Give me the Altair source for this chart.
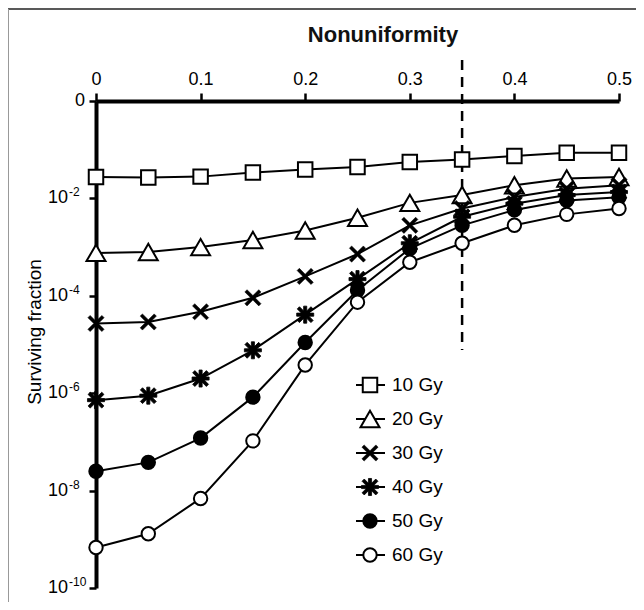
import math
import altair as alt
import pandas as pd

nonuniformity = [0.0, 0.05, 0.10, 0.15, 0.20, 0.25, 0.30, 0.35, 0.40, 0.45, 0.50]
doses = ["10 Gy", "20 Gy", "30 Gy", "40 Gy", "50 Gy", "60 Gy"]
sf_10 = [2.75e-2, 2.7e-2, 2.8e-2, 3.4e-2, 3.9e-2, 4.4e-2, 5.6e-2, 6.3e-2, 7.4e-2, 8.7e-2, 8.7e-2]
sf_20 = [7.6e-4, 7.9e-4, 1.0e-3, 1.4e-3, 2.2e-3, 4.0e-3, 8.1e-3, 1.17e-2, 1.86e-2, 2.57e-2, 2.75e-2]
sf_30 = [2.7e-5, 2.9e-5, 4.7e-5, 9.1e-5, 2.5e-4, 7.2e-4, 2.8e-3, 6.2e-3, 1.07e-2, 1.58e-2, 1.86e-2]
sf_40 = [7.2e-7, 8.9e-7, 2.0e-6, 7.6e-6, 4.1e-5, 2.2e-4, 1.2e-3, 4.2e-3, 7.8e-3, 1.17e-2, 1.35e-2]
sf_50 = [2.5e-8, 3.8e-8, 1.2e-7, 8.3e-7, 1.1e-5, 1.3e-4, 9.3e-4, 2.8e-3, 5.8e-3, 9.1e-3, 1.05e-2]
sf_60 = [6.8e-10, 1.3e-9, 6.9e-9, 1.05e-7, 3.8e-6, 7.4e-5, 4.9e-4, 1.2e-3, 2.8e-3, 4.7e-3, 6.2e-3]
threshold = 0.35
x_ticks = [0, 0.1, 0.2, 0.3, 0.4, 0.5]
y_ticks = [1, 1e-2, 1e-4, 1e-6, 1e-8, 1e-10]

series = [sf_10, sf_20, sf_30, sf_40, sf_50, sf_60]
rows = []
for d, vals in zip(doses, series):
    for xv, yv in zip(nonuniformity, vals):
        rows.append({"dose": d, "nonuniformity": xv, "sf": yv})
df = pd.DataFrame(rows)
leg = pd.DataFrame({"dose": doses, "idx": list(range(len(doses)))})
ytick_df = pd.DataFrame({"v": y_ticks})

FONT = "Liberation Sans"


def plus_poly(a, L, ang):
    pts = [(-a, -L), (a, -L), (a, -a), (L, -a), (L, a), (a, a), (a, L), (-a, L),
           (-a, a), (-L, a), (-L, -a), (-a, -a)]
    c, s = math.cos(math.radians(ang)), math.sin(math.radians(ang))
    rp = [(x * c - y * s, x * s + y * c) for x, y in pts]
    return "M" + "L".join(f"{x:.3f},{y:.3f}" for x, y in rp) + "Z"


X_PATH = plus_poly(0.2, 1.25, 45)
AST_PATH = plus_poly(0.2, 1.25, 45) + plus_poly(0.2, 1.1, 0)

# per-series marker style: shape, fill, size, strokeWidth
styles = {
    "10 Gy": ("square", "white", 210, 2),
    "20 Gy": ("triangle-up", "white", 360, 2),
    "30 Gy": (X_PATH, "black", 250, 0.5),
    "40 Gy": (AST_PATH, "black", 240, 0.8),
    "50 Gy": ("circle", "black", 180, 2),
    "60 Gy": ("circle", "white", 180, 2),
}

xs = alt.Scale(domain=[0, 0.5], nice=False, zero=False)
ys = alt.Scale(type="log", domain=[1e-10, 1], nice=False)

X = alt.X("nonuniformity:Q", scale=xs,
          axis=alt.Axis(orient="top", values=x_ticks, title=None,
                        labelExpr="datum.value == 0 ? '0' : format(datum.value, '.1f')",
                        domainWidth=4, domainColor="black", tickColor="black",
                        tickWidth=2.5, tickSize=8, labelFontSize=18, labelFont=FONT,
                        labelColor="black", labelPadding=5, grid=False, labelFlush=False))
Y = alt.Y("sf:Q", scale=ys,
          axis=alt.Axis(values=y_ticks, title=None, labels=False,
                        domainWidth=4, domainColor="black", tickColor="black",
                        tickWidth=2.5, tickSize=7, grid=False))

base = alt.Chart(df)
layers = []

frame_src = pd.DataFrame({"t": [0]})
layers.append(alt.Chart(frame_src).mark_rule(color="#222", strokeWidth=1.5).encode(
    x=alt.value(-88), x2=alt.value(548), y=alt.value(-92)))
layers.append(alt.Chart(frame_src).mark_rule(color="#999", strokeWidth=1).encode(
    x=alt.value(-87.5), y=alt.value(-92), y2=alt.value(509)))

layers.append(alt.Chart(pd.DataFrame({"t": [threshold]})).mark_rule(
    color="black", strokeWidth=2.5, strokeDash=[10, 7]).encode(
    x=alt.X("t:Q", scale=xs), y=alt.value(-41), y2=alt.value(249)))

layers.append(base.mark_line(color="black", strokeWidth=2).encode(x=X, y=Y, detail="dose:N"))

for d in doses:
    shp, fil, sz, sw = styles[d]
    layers.append(base.transform_filter(alt.datum.dose == d).mark_point(
        shape=shp, fill=fil, filled=True, opacity=1, stroke="black",
        strokeWidth=sw, size=sz).encode(x=X, y=Y))

lb = alt.Chart(leg).transform_calculate(ly="284 + 34*datum.idx")
layers.append(lb.mark_rule(color="black", strokeWidth=2).encode(
    x=alt.value(260), x2=alt.value(289), y=alt.Y("ly:Q", scale=None, axis=None)))
for d in doses:
    shp, fil, sz, sw = styles[d]
    layers.append(lb.transform_filter(alt.datum.dose == d).mark_point(
        shape=shp, fill=fil, filled=True, opacity=1, stroke="black",
        strokeWidth=sw, size=sz).encode(x=alt.value(274), y=alt.Y("ly:Q", scale=None, axis=None)))
layers.append(lb.mark_text(align="left", baseline="middle", fontSize=19, font=FONT, color="black").encode(
    x=alt.value(296), y=alt.Y("ly:Q", scale=None, axis=None), text="dose:N"))

# y tick labels: "0" for 10^0, else "10" with a raised exponent
yt = alt.Chart(ytick_df).transform_calculate(
    exp_txt="datum.v >= 1 ? '' : '-' + format(-round(log(datum.v)/LN10), 'd')")
ylabel_y = alt.Y("v:Q", scale=ys)
layers.append(yt.transform_filter("datum.v >= 1").mark_text(
    text="0", align="right", baseline="middle", fontSize=18, font=FONT, color="black").encode(
    x=alt.value(-11), y=ylabel_y))
layers.append(yt.transform_filter("datum.v < 1").mark_text(
    text="10", align="right", baseline="middle", fontSize=18, font=FONT, color="black").encode(
    x=alt.value(-28), y=ylabel_y))
layers.append(yt.transform_filter("datum.v < 1").mark_text(
    align="left", baseline="middle", fontSize=12, font=FONT, color="black", dy=-6).encode(
    x=alt.value(-27), y=ylabel_y, text="exp_txt:N"))

layers.append(alt.Chart(pd.DataFrame({"t": ["Nonuniformity"]})).mark_text(
    fontSize=22, fontWeight="bold", font=FONT, color="#111",
    align="center", baseline="alphabetic").encode(
    x=alt.value(287), y=alt.value(-59), text="t:N"))
layers.append(alt.Chart(pd.DataFrame({"t": ["Surviving fraction"]})).mark_text(
    fontSize=19, font=FONT, color="black", angle=270, align="center", baseline="middle").encode(
    x=alt.value(-61), y=alt.value(231), text="t:N"))

chart = alt.layer(*layers).properties(
    width=523, height=487,
    padding={"left": 88, "top": 93, "right": 17, "bottom": 14},
    autosize="none",
).configure_view(stroke=None)

chart.save("out.html", embed_options={"renderer": "svg", "actions": False})
